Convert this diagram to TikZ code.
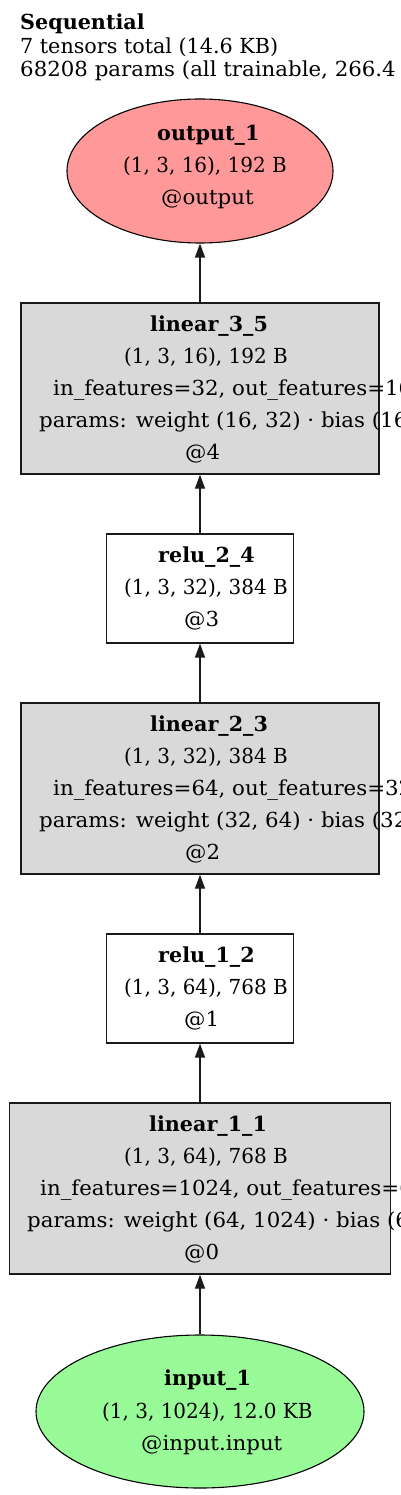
\documentclass[tikz,border=0pt]{standalone}
\usepackage{fontspec}
\setmainfont{DejaVu Serif}[FakeStretch=1.03]
\newfontfamily\plainf{DejaVu Serif}
\newfontfamily\numf{DejaVu Serif}[FakeStretch=0.965]
\usetikzlibrary{shapes.geometric,arrows.meta}
\definecolor{outfill}{HTML}{FF9999}
\definecolor{infill}{HTML}{98FB98}
\definecolor{linfill}{HTML}{D9D9D9}
\definecolor{edge}{HTML}{1A1A1A}
\tikzset{
  txt/.style={anchor=base west, inner sep=0pt, font=\fontsize{20.7}{24}\selectfont},
  ptxt/.style={anchor=base west, inner sep=0pt, font=\plainf\fontsize{20.7}{24}\selectfont},
  ntxt/.style={anchor=base west, inner sep=0pt, font=\numf\fontsize{20.7}{24}\selectfont},
  btxt/.style={anchor=base west, inner sep=0pt, font=\plainf\fontsize{20.7}{24}\selectfont\bfseries},
  linbox/.style={draw=edge, line width=1.3pt, fill=linfill, rectangle, inner sep=0pt, minimum width=358pt, minimum height=171pt},
  relubox/.style={draw=edge, line width=1.3pt, fill=white, rectangle, inner sep=0pt, minimum width=187pt, minimum height=109pt},
  oval/.style={draw=black, line width=1.1pt, ellipse, inner sep=0pt},
  arr/.style={draw=edge, line width=1.3pt, -{Triangle[length=14pt,width=10pt]}}
}
\begin{document}
\begin{tikzpicture}[x=1pt,y=-1pt]
\useasboundingbox (0,0) rectangle (400,1495);
\clip (0,0) rectangle (400,1495);
\fill[white] (0,0) rectangle (400,1495);

% title
\node[btxt] (t1) at (20,30) {Sequential};
\node[ptxt] (t2) at (20,53.5) {7 tensors total (14.6 KB)};
\node[txt] (t3) at (20,77) {68208 params (all trainable, 266.4 KB)};

% output
\node[oval, fill=outfill, minimum width=266pt, minimum height=144pt] (out) at (200,171) {};
\node[btxt] (outa) at (157,141) {output\_1};
\node[ntxt] (outb) at (123,173) {(1, 3, 16), 192 B};
\node[txt] (outc) at (161,205) {@output};

% linear_3_5
\node[linbox] (l35) at (200,388.5) {};
\node[btxt] (l35a) at (150,331) {linear\_3\_5};
\node[ntxt] (l35b) at (124,363) {(1, 3, 16), 192 B};
\node[txt] (l35c) at (53,395) {in\_features=32, out\_features=16};
\node[txt] (l35d) at (39,427) {params: weight (16, 32) · bias (16)};
\node[txt] (l35e) at (185,459) {@4};

% relu_2_4
\node[relubox] (r24) at (200,588.5) {};
\node[btxt] (r24a) at (158,562) {relu\_2\_4};
\node[ntxt] (r24b) at (124,594) {(1, 3, 32), 384 B};
\node[txt] (r24c) at (184,626) {@3};

% linear_2_3
\node[linbox] (l23) at (200,788.5) {};
\node[btxt] (l23a) at (150,731) {linear\_2\_3};
\node[ntxt] (l23b) at (124,763) {(1, 3, 32), 384 B};
\node[txt] (l23c) at (53,795) {in\_features=64, out\_features=32};
\node[txt] (l23d) at (39,827) {params: weight (32, 64) · bias (32)};
\node[txt] (l23e) at (185,859) {@2};

% relu_1_2
\node[relubox] (r12) at (200,988.5) {};
\node[btxt] (r12a) at (158,962) {relu\_1\_2};
\node[ntxt] (r12b) at (124,994) {(1, 3, 64), 768 B};
\node[txt] (r12c) at (184,1026) {@1};

% linear_1_1
\node[linbox, minimum width=381pt] (l11) at (200,1188.5) {};
\node[btxt] (l11a) at (149,1131) {linear\_1\_1};
\node[ntxt] (l11b) at (124,1163) {(1, 3, 64), 768 B};
\node[txt] (l11c) at (40,1195) {in\_features=1024, out\_features=64};
\node[txt] (l11d) at (27,1227) {params: weight (64, 1024) · bias (64)};
\node[txt] (l11e) at (184,1259) {@0};

% input
\node[oval, fill=infill, minimum width=328pt, minimum height=153pt] (in) at (200,1411.5) {};
\node[btxt] (ina) at (164,1385) {input\_1};
\node[ntxt] (inb) at (102,1418) {(1, 3, 1024), 12.0 KB};
\node[txt] (inc) at (141,1450) {@input.input};

% edges
\draw[arr] (in.north) -- (l11.south);
\draw[arr] (l11.north) -- (r12.south);
\draw[arr] (r12.north) -- (l23.south);
\draw[arr] (l23.north) -- (r24.south);
\draw[arr] (r24.north) -- (l35.south);
\draw[arr] (l35.north) -- (out.south);
\end{tikzpicture}
\end{document}
